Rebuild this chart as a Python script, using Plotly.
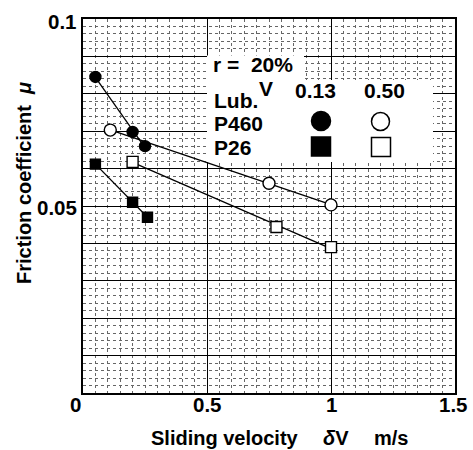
import numpy as np
import plotly.graph_objects as go

# ---- data ----
v_p460_013 = [0.05, 0.20, 0.25]
mu_p460_013 = [0.0845, 0.0698, 0.0660]
v_p460_050 = [0.11, 0.75, 1.00]
mu_p460_050 = [0.0703, 0.0561, 0.0503]
v_p26_013 = [0.05, 0.20, 0.26]
mu_p26_013 = [0.0612, 0.0510, 0.0470]
v_p26_050 = [0.20, 0.78, 1.00]
mu_p26_050 = [0.0618, 0.0444, 0.0390]

x_tick_vals = [0, 0.5, 1, 1.5]
x_tick_text = ["0", "0.5", "1", "1.5"]
y_tick_vals = [0.05, 0.1]
y_tick_text = ["0.05", "0.1"]

W, H = 473, 450
L, R, T, B = 83, 18, 19, 57
PW, PH = W - L - R, H - T - B
FONT = "Liberation Sans"


def px(x):
    return (x - L) / PW


def py(y):
    return (H - B - y) / PH


fig = go.Figure()

series = [
    (v_p460_013, mu_p460_013, "circle", "black", 11),
    (v_p460_050, mu_p460_050, "circle", "white", 12),
    (v_p26_013, mu_p26_013, "square", "black", 10),
    (v_p26_050, mu_p26_050, "square", "white", 11),
]

for xs, ys, sym, fill, size in series:
    k, c = np.polyfit(xs, ys, 1)
    fx = [min(xs), max(xs)]
    fy = [k * v + c for v in fx]
    fig.add_trace(go.Scatter(x=fx, y=fy, mode="lines",
                             line=dict(color="black", width=1.3),
                             showlegend=False, hoverinfo="skip"))
for xs, ys, sym, fill, size in series:
    fig.add_trace(go.Scatter(x=xs, y=ys, mode="markers",
                             marker=dict(symbol=sym, size=size, color=fill,
                                         line=dict(color="black", width=1.4)),
                             showlegend=False))

shapes = []
# white legend boxes
shapes.append(dict(type="rect", xref="paper", yref="paper", layer="above",
                   x0=px(207), x1=px(304), y0=py(80), y1=py(55.5),
                   fillcolor="white", line=dict(width=0)))
shapes.append(dict(type="rect", xref="paper", yref="paper", layer="above",
                   x0=px(207), x1=px(433), y0=py(162), y1=py(80),
                   fillcolor="white", line=dict(width=0)))

# legend symbols
def sym_shape(kind, cx, cy, d, fill):
    return dict(type=kind, xref="paper", yref="paper",
                xsizemode="pixel", ysizemode="pixel",
                xanchor=px(cx), yanchor=py(cy),
                x0=-d / 2, x1=d / 2, y0=-d / 2, y1=d / 2,
                fillcolor=fill, line=dict(color="black", width=1.5),
                layer="above")

shapes.append(sym_shape("circle", 321, 121, 19, "black"))
shapes.append(sym_shape("circle", 380.5, 121.5, 18, "white"))
shapes.append(sym_shape("rect", 321, 146.5, 19, "black"))
shapes.append(sym_shape("rect", 381, 147, 19, "white"))

ann = []


def text(t, x, y, size=20, xanchor="center", yanchor="middle", **kw):
    ann.append(dict(text=t, x=px(x), y=py(y), xref="paper", yref="paper",
                    xanchor=xanchor, yanchor=yanchor, showarrow=False,
                    font=dict(family=FONT, size=size, color="black",
                              weight="bold"), **kw))

# tick labels
x_tick_px = [75, 207, 331, 453]
for lab, xp in zip(x_tick_text, x_tick_px):
    text(lab, xp, 405, size=20.5)
text(y_tick_text[0], 79, 207, size=20.5, xanchor="right")
text(y_tick_text[1], 79, 21, size=20.5, xanchor="right")

# axis titles
text("Sliding velocity", 225, 438)
text("<i>δ</i>V", 336, 438)
text("m/s", 391, 438)
text("Friction coefficient  <i>μ</i>", 24, 183, textangle=-90)

# legend texts
text("r =  20%", 211, 64, size=21, xanchor="left")
text("V", 265.5, 89, size=21)
text("0.13", 315, 90, size=21)
text("0.50", 384, 90, size=21)
text("Lub.", 212, 100.5, size=21, xanchor="left")
text("P460", 212, 123.5, size=21, xanchor="left")
text("P26", 212, 147.5, size=21, xanchor="left")

axis_common = dict(showline=True, mirror=True, linecolor="black", linewidth=2,
                   showgrid=True, gridcolor="black", gridwidth=1.3,
                   zeroline=False, showticklabels=False, ticks="")

fig.update_layout(
    width=W, height=H, autosize=False,
    margin=dict(l=L, r=R, t=T, b=B),
    paper_bgcolor="white", plot_bgcolor="white",
    shapes=shapes, annotations=ann,
    xaxis=dict(range=[0, 1.5], tick0=0, dtick=0.5,
               minor=dict(tick0=0, dtick=0.05, showgrid=True,
                          gridcolor="#666", griddash="dot", gridwidth=1),
               **axis_common),
    yaxis=dict(range=[0, 0.1], tick0=0, dtick=0.01,
               minor=dict(tick0=0, dtick=0.002, showgrid=True,
                          gridcolor="#666", griddash="dot", gridwidth=1),
               **axis_common),
)

fig.write_html("out.html",
               config={"displayModeBar": False},
               post_script="document.body.style.margin='0';"
                           "document.body.style.overflow='hidden';")
